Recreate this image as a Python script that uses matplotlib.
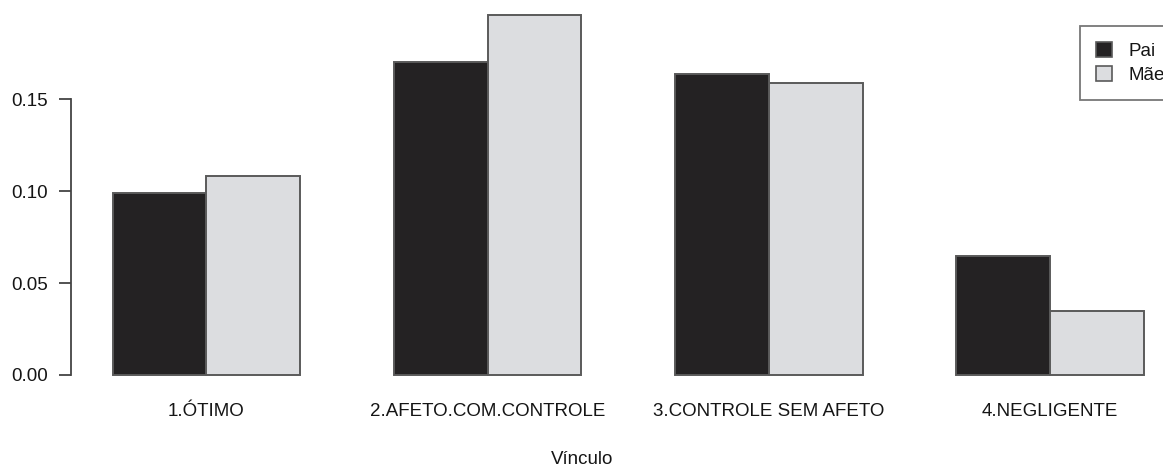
import matplotlib.pyplot as plt
from matplotlib.patches import Patch
import numpy as np

# values
categories = ["1.ÓTIMO", "2.AFETO.COM.CONTROLE", "3.CONTROLE SEM AFETO", "4.NEGLIGENTE"]
pai = [0.0992, 0.1705, 0.1638, 0.0647]
mae = [0.1084, 0.1962, 0.1590, 0.0348]
series_names = ["Pai", "Mãe"]
yticks = [0.00, 0.05, 0.10, 0.15]

plt.rcParams['font.family'] = ['Liberation Sans', 'DejaVu Sans']

W, H = 1163, 467
fig = plt.figure(figsize=(W / 100, H / 100), dpi=100)

# R barplot(beside=TRUE) layout: groups of 2 bars, 1 bar of space before each group
px_unit = 93.75
x0_px = 71.45
ax = fig.add_axes([x0_px / W, (H - 389.4) / H, 11.88 * px_unit / W, 389.4 / H])

dark = "#242223"
light = "#dcdde0"
edge = "#5a5a5a"
txt = "#151515"

left = 1 + 3 * np.arange(len(categories))
ax.bar(left, pai, width=1, align="edge", color=dark, edgecolor=edge, linewidth=1.4)
ax.bar(left + 1, mae, width=1, align="edge", color=light, edgecolor=edge, linewidth=1.4)

ax.set_xlim(0.56, 12.44)
ax.set_ylim(-0.00785, 0.2041)

for s in ["top", "right", "bottom"]:
    ax.spines[s].set_visible(False)
ax.spines["left"].set_bounds(0, 0.15)
ax.spines["left"].set_color("#444444")
ax.spines["left"].set_linewidth(1.3)

ax.set_yticks(yticks)
ax.set_yticklabels([f"{v:.2f}" for v in yticks])
ax.tick_params(axis="y", length=9, width=1.3, color="#444444", pad=8,
               labelsize=13.5, labelcolor=txt)

ax.set_xticks(left + 1)
ax.set_xticklabels(categories)
ax.tick_params(axis="x", length=0, pad=10, labelsize=13.5, labelcolor=txt)

fig.text(582 / W, 1 - 460 / H, "Vínculo", ha="center", va="center",
         fontsize=13.5, color=txt)

handles = [Patch(facecolor=dark, edgecolor=edge, linewidth=1.2),
           Patch(facecolor=light, edgecolor=edge, linewidth=1.2)]
leg = fig.legend(handles, series_names, loc="upper left",
                 bbox_to_anchor=(1080 / W, 1 - 26 / H), borderaxespad=0,
                 fontsize=13.5, frameon=True, fancybox=False,
                 handlelength=0.85, handleheight=0.85, handletextpad=0.9,
                 labelspacing=0.35, borderpad=0.85)
leg.get_frame().set_edgecolor("#555555")
leg.get_frame().set_linewidth(1.3)
for t in leg.get_texts():
    t.set_color(txt)

fig.savefig("out.png", dpi=100)
